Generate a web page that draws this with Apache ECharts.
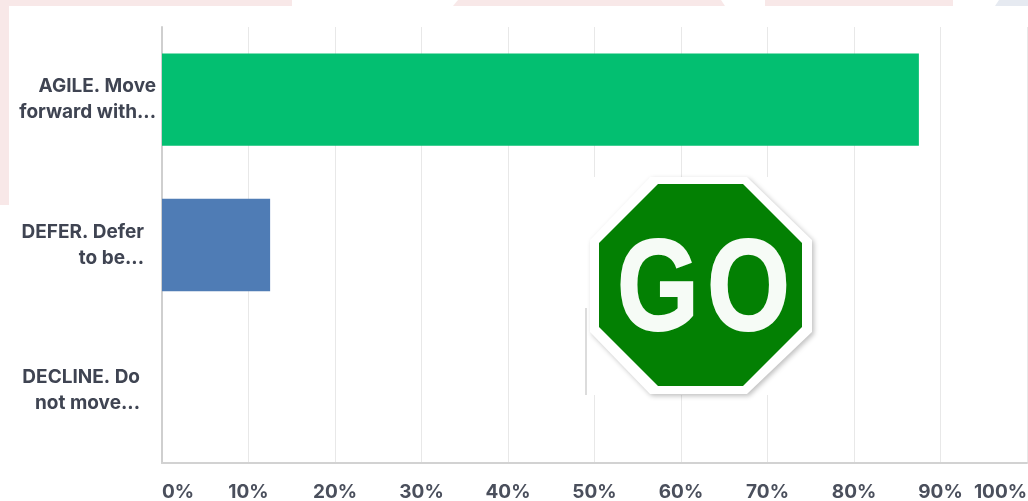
<!DOCTYPE html>
<html><head><meta charset="utf-8">
<style>html,body{margin:0;padding:0;background:#fff}#c{width:1028px;height:501px}</style>
<script src="https://cdn.jsdelivr.net/npm/echarts@6/dist/echarts.min.js"></script>
</head><body><div id="c"></div>
<script>
const categories = ['AGILE. Move\nforward with...', 'DEFER. Defer\nto be...', 'DECLINE. Do\nnot move...'];
const labelGaps = [6, 18, 22];
const values = [87.5, 12.5, 0];
const barColors = ['#03bf71', '#4f7cb5', '#999999'];
const font = 'Inter, sans-serif';

const chart = echarts.init(document.getElementById('c'), null, {renderer: 'canvas'});
const poly = (pts, style, z, extra) => Object.assign({type: 'polygon', z, shape: {points: pts}, style}, extra || {});
const strip = (pts, fill) => ({type: 'polygon', silent: true, z: 1, shape: {points: pts}, style: {fill}});
const letter = (t, x, sx) => ({type: 'text', silent: true, z: 104, x, y: 294, scaleX: sx, scaleY: 1,
  style: {text: t, x: 0, y: 0, align: 'center', verticalAlign: 'middle', fill: '#f6fbf6', stroke: '#f6fbf6', lineWidth: 2, fontFamily: '"Liberation Sans", sans-serif', fontWeight: 700, fontSize: 130}});
chart.setOption({
  animation: false,
  backgroundColor: '#ffffff',
  grid: {left: 162, right: 1, top: 27, bottom: 38, outerBoundsMode: 'none'},
  xAxis: {
    type: 'value', min: 0, max: 100, interval: 10,
    axisLine: {show: true, onZero: false, lineStyle: {color: '#d2d2d2', width: 2}}, axisTick: {show: false},
    splitLine: {show: true, lineStyle: {color: '#e8e8e8', width: 1}},
    axisLabel: {
      formatter: '{value}%', margin: 20, color: '#4a4f5c',
      fontFamily: font, fontWeight: 700, fontSize: 19,
      alignMinLabel: 'left', alignMaxLabel: 'right'
    }
  },
  yAxis: {
    type: 'category', inverse: true,
    data: categories.map((c, i) => ({value: c, textStyle: {padding: [0, labelGaps[i], 0, 0]}})),
    axisLine: {show: true, lineStyle: {color: '#cfcfcf', width: 2}},
    axisTick: {show: false},
    axisLabel: {margin: 0, align: 'right', color: '#3f4452', fontFamily: font, fontWeight: 700, fontSize: 19, lineHeight: 26}
  },
  series: [{
    type: 'bar', barWidth: '63.5%',
    data: values.map((v, i) => ({value: v, itemStyle: {color: barColors[i]}}))
  }],
  graphic: [
    strip([[0,0],[292,0],[292,6],[9,6],[9,205],[0,205]], '#f8e8e8'),
    strip([[458,0],[721,0],[725,6],[453,6]], '#f8e8e8'),
    strip([[765,0],[953,0],[953,6],[765,6]], '#f8e8e8'),
    strip([[999,0],[1028,0],[1028,6],[995,6]], '#e6eaf1'),
    {type: 'rect', silent: true, z: 100, shape: {x: 585, y: 177, width: 231, height: 218}, style: {fill: '#ffffff'}},
    {type: 'rect', silent: true, z: 101, shape: {x: 585, y: 308, width: 2, height: 87}, style: {fill: '#dcdcdc'}},
    poly([[650,177],[747,177],[812,240],[812,332],[747,394],[650,394],[590,332],[590,240]],
      {fill: '#ffffff', shadowColor: 'rgba(0,0,0,0.25)', shadowBlur: 5, shadowOffsetX: 2, shadowOffsetY: 2}, 102, {silent: true}),
    poly([[658,184],[743,184],[802,243],[802,327],[743,386],[658,386],[599,327],[599,243]], {fill: '#038003'}, 103, {silent: true}),
    letter('G', 658, 0.81),
    letter('O', 748.5, 0.82)
  ]
});
</script></body></html>
